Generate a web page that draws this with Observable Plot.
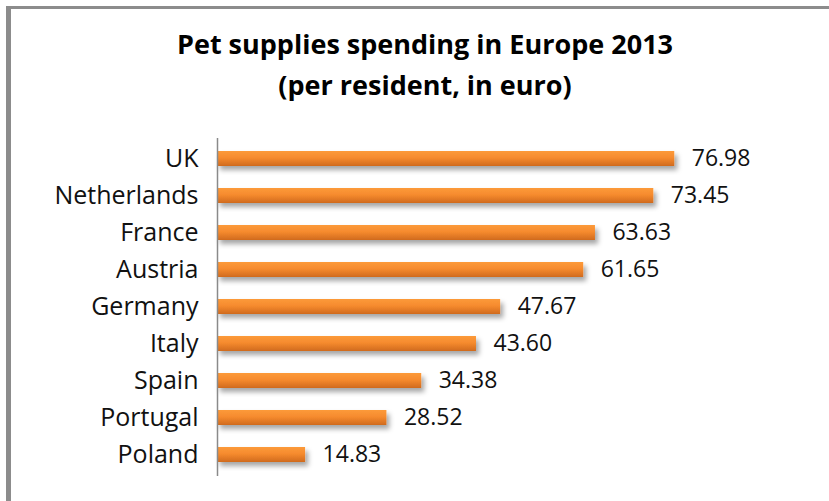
<!DOCTYPE html>
<html>
<head>
<meta charset="utf-8">
<script src="https://cdn.jsdelivr.net/npm/d3@7"></script>
<script src="https://cdn.jsdelivr.net/npm/@observablehq/plot@0.6"></script>
<style>
  html, body { margin: 0; padding: 0; background: #fff; }
  #frame {
    position: absolute; left: 6px; top: 6px; width: 840px; height: 520px;
    border-left: 5px solid #8c8c8c; border-top: 3px solid #8c8c8c;
    background: #fff;
  }
  #title {
    position: absolute; left: 0; width: 850px;
    font-family: "Open Sans", "Noto Sans", sans-serif; font-weight: bold;
    font-size: 27px; line-height: 41px; color: #000; text-align: center;
  }
  #chart { position: absolute; left: 0; top: 120px; }
</style>
</head>
<body>
<div id="frame"></div>
<div id="title" style="top:23px">Pet supplies spending in Europe 2013<br>(per resident, in euro)</div>
<div id="chart"></div>
<script>
const countries = ["UK", "Netherlands", "France", "Austria", "Germany", "Italy", "Spain", "Portugal", "Poland"];
const values = [76.98, 73.45, 63.63, 61.65, 47.67, 43.60, 34.38, 28.52, 14.83];
const labels = ["76.98", "73.45", "63.63", "61.65", "47.67", "43.60", "34.38", "28.52", "14.83"];

const data = countries.map((c, i) => ({country: c, value: values[i], label: labels[i]}));

const defs = () => {
  const d = d3.create("svg:defs");
  const g = d.append("linearGradient").attr("id", "barGrad")
    .attr("x1", 0).attr("y1", 0).attr("x2", 0).attr("y2", 1);
  g.append("stop").attr("offset", "0%").attr("stop-color", "#fc9a3a");
  g.append("stop").attr("offset", "45%").attr("stop-color", "#f68b2e");
  g.append("stop").attr("offset", "100%").attr("stop-color", "#d06a1e");
  const f = d.append("filter").attr("id", "shadow")
    .attr("x", "-5%").attr("y", "-30%").attr("width", "115%").attr("height", "190%");
  f.append("feDropShadow").attr("dx", 3).attr("dy", 4).attr("stdDeviation", 2.5)
    .attr("flood-color", "#000").attr("flood-opacity", 0.35);
  return d.node();
};

const plot = Plot.plot({
  width: 829,
  height: 376,
  marginLeft: 217,
  marginRight: 18,
  marginTop: 18,
  marginBottom: 20,
  style: {fontFamily: "'Open Sans', 'Noto Sans', sans-serif", fontSize: "24px", color: "#111", background: "transparent"},
  x: {domain: [0, 100], axis: null},
  y: {domain: countries, paddingInner: 0.585, paddingOuter: 0.29, label: null},
  marks: [
    defs,
    Plot.barX(data, {x: "value", y: "country", fill: "url(#barGrad)"}),
    Plot.axisY({tickSize: 0, tickPadding: 19, fontSize: 25, label: null, fill: "#111"}),
    Plot.ruleX([0], {stroke: "#8a8a8a", strokeWidth: 1.5}),
    Plot.text(data, {x: "value", y: "country", text: "label", textAnchor: "start", dx: 17, fontSize: 23, fill: "#111"})
  ]
});
plot.querySelectorAll("g[aria-label='bar'] rect").forEach(r => r.setAttribute("filter", "url(#shadow)"));
document.getElementById("chart").appendChild(plot);
</script>
</body>
</html>
